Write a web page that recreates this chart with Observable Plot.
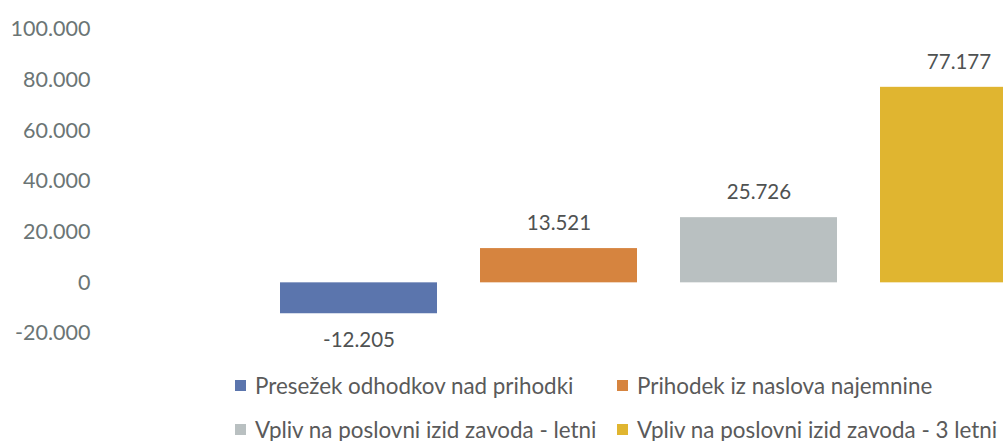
<!DOCTYPE html>
<html>
<head>
<meta charset="utf-8">
<script src="https://cdn.jsdelivr.net/npm/d3@7"></script>
<script src="https://cdn.jsdelivr.net/npm/@observablehq/plot@0.6"></script>
<style>
  html, body { margin: 0; padding: 0; background: #fff; overflow: hidden; width: 1003px; height: 441px; }
  #chart { width: 1003px; height: 362px; overflow: hidden; }
  #chart svg { display: block; max-width: none !important; width: 1080px !important; height: 362px !important; }
  .legend { font-family: Lato, sans-serif; font-size: 22.4px; color: #5a5a5a; position: relative; height: 79px; }
  .item { position: absolute; display: flex; align-items: center; white-space: nowrap; height: 44px; }
  .sw { width: 11px; height: 11px; margin-right: 9px; flex: none; }
</style>
</head>
<body>
<div id="chart"></div>
<div class="legend" id="legend"></div>
<script>
const categories = [
  "Presežek odhodkov nad prihodki",
  "Prihodek iz naslova najemnine",
  "Vpliv na poslovni izid zavoda - letni",
  "Vpliv na poslovni izid zavoda - 3 letni"
];
const values = [-12205, 13521, 25726, 77177];
const colors = ["#5b75ad", "#d6843f", "#b9c0c1", "#e0b530"];
const yTicks = [-20000, 0, 20000, 40000, 60000, 80000, 100000];

const locale = d3.formatLocale({decimal: ",", thousands: ".", grouping: [3], currency: ["", "€"], minus: "-"});
const fmt = locale.format(",");

const data = categories.map((c, i) => ({name: c, value: values[i]}));

const chart = Plot.plot({
  width: 1080,
  height: 362,
  marginLeft: 92,
  marginRight: 0,
  marginTop: 28,
  marginBottom: 29,
  style: {fontFamily: "Lato, sans-serif", fontSize: "20px", background: "transparent"},
  x: {domain: categories, range: [237, 1080], padding: 0.215, axis: null},
  y: {domain: [-20000, 100000], range: [333, 29], ticks: yTicks, tickFormat: fmt},
  color: {domain: categories, range: colors},
  marks: [
    Plot.axisY({ticks: yTicks, tickFormat: fmt, tickSize: 0, tickPadding: 2, fill: "#6b7575", fontSize: 21.5, label: null}),
    Plot.barY(data, {x: "name", y: "value", fill: "name"}),
    Plot.text(data.filter(d => d.value >= 0), {x: "name", y: "value", text: d => fmt(d.value), dy: -25, fill: "#4f5252", fontSize: 20.5, lineAnchor: "middle"}),
    Plot.text(data.filter(d => d.value < 0), {x: "name", y: "value", text: d => fmt(d.value), dy: 27, fill: "#4f5252", fontSize: 20.5, lineAnchor: "middle"})
  ]
});
document.getElementById("chart").appendChild(chart);

const legend = document.getElementById("legend");
const pos = [[235, 1], [617, 1], [235, 45], [617, 45]];
categories.forEach((c, i) => {
  const it = document.createElement("div");
  it.className = "item";
  it.style.left = pos[i][0] + "px";
  it.style.top = pos[i][1] + "px";
  const sw = document.createElement("span");
  sw.className = "sw";
  sw.style.background = colors[i];
  const tx = document.createElement("span");
  tx.textContent = c;
  it.appendChild(sw);
  it.appendChild(tx);
  legend.appendChild(it);
});
</script>
</body>
</html>
